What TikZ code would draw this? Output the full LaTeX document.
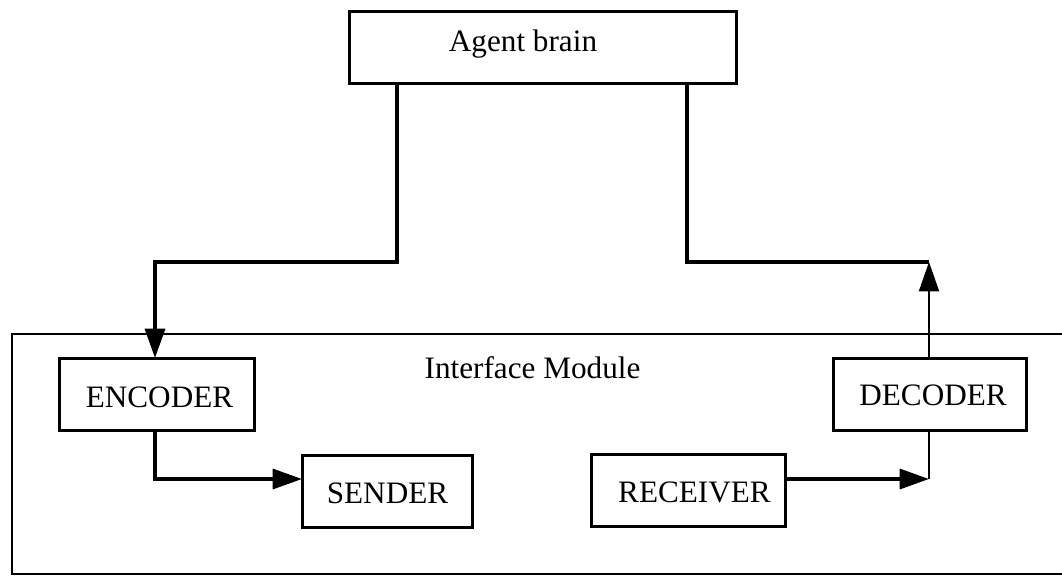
\documentclass[tikz,border=0pt]{standalone}
\usepackage{fontspec}
\setmainfont{Liberation Serif}
\usetikzlibrary{arrows.meta,calc}
\begin{document}
\begin{tikzpicture}[x=0.75pt,y=-0.75pt,
  blockbox/.style={draw,line width=2.25pt,inner sep=0pt,outer sep=0pt,minimum height=54pt},
  lbl/.style={anchor=base,inner sep=0pt,font=\fontsize{23.4}{28}\selectfont},
  thickline/.style={line width=2.5pt},
  thinline/.style={line width=1.5pt},
  tip/.style={-{Triangle[length=22pt,width=15pt]}}]
\useasboundingbox (0,0) rectangle (1062,575);
% outer interface module frame
\coordinate (mtr) at (1070,334);
\coordinate (mtl) at (12,334);
\coordinate (mbl) at (12,574);
\coordinate (mbr) at (1070,574);
\draw[thinline] (mtr) -- (mtl) -- (mbl) -- (mbr);
% boxes
\node[blockbox,minimum width=290.25pt] (brain) at (542.5,47) {};
\node[blockbox,minimum width=146.25pt] (encoder) at (156.5,394) {};
\node[blockbox,minimum width=127.5pt] (sender) at (387,491) {};
\node[blockbox,minimum width=145.5pt] (receiver) at (688,490.5) {};
\node[blockbox,minimum width=144.75pt] (decoder) at (929.5,394) {};
% labels
\node[lbl] (tbrain) at (523,51) {Agent brain};
\node[lbl] (tenc) at (159.5,407) {ENCODER};
\node[lbl] (tsend) at (387.5,503) {SENDER};
\node[lbl] (trecv) at (694.5,502) {RECEIVER};
\node[lbl] (tdec) at (933,405) {DECODER};
\node[lbl] (tmod) at (532.5,378) {Interface Module};
% connectors
\coordinate (bl) at (397,83);
\coordinate (bl2) at (397,262);
\coordinate (el) at (155,262);
\coordinate (br) at (687,83);
\coordinate (br2) at (687,262);
\coordinate (dj) at (929,262);
\coordinate (ej) at (155,479);
\coordinate (rj) at (929,479);
\draw[thickline,tip] (bl) -- (bl2) -- (el) -- (encoder.north -| el);
\draw[thickline] (br) -- (br2) -- (dj);
\draw[thinline,tip] (decoder.north -| dj) -- (dj);
\draw[thickline,tip] (encoder.south -| ej) -- (ej) -- (sender.west |- ej);
\draw[thickline,tip] (receiver.east |- rj) -- (rj);
\draw[thinline] (rj) -- (decoder.south -| rj);
\end{tikzpicture}
\end{document}
